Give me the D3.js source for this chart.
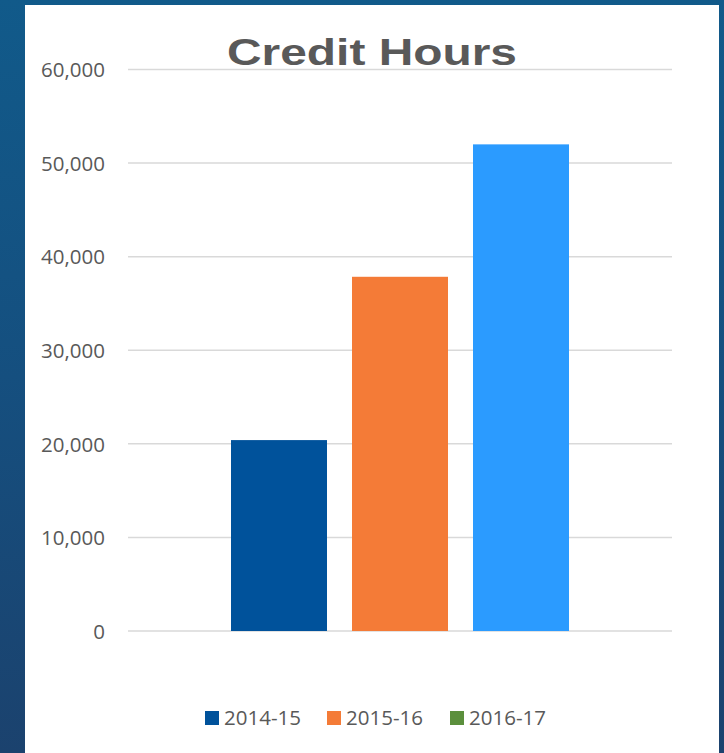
<!DOCTYPE html>
<html>
<head>
<meta charset="utf-8">
<script src="https://cdn.jsdelivr.net/npm/d3@7"></script>
<style>
  html, body { margin: 0; padding: 0; }
  body { width: 724px; height: 753px; overflow: hidden; }
</style>
</head>
<body>
<div id="chart"></div>
<script>
const title = "Credit Hours";
const seriesNames = ["2014-15", "2015-16", "2016-17"];
const values = [20400, 37850, 52000];
const barColors = ["#00529B", "#F47B37", "#2B9BFF"];
const legendColors = ["#00529B", "#F47B37", "#5B8F3C"];
const yTicks = [0, 10000, 20000, 30000, 40000, 50000, 60000];

const W = 724, H = 753;
const svg = d3.select("#chart").append("svg").attr("width", W).attr("height", H);

const defs = svg.append("defs");
const grad = defs.append("linearGradient").attr("id", "bg").attr("x1", 0).attr("y1", 0).attr("x2", 0).attr("y2", 1);
grad.append("stop").attr("offset", "0%").attr("stop-color", "#115A8A");
grad.append("stop").attr("offset", "50%").attr("stop-color", "#154F7F");
grad.append("stop").attr("offset", "100%").attr("stop-color", "#1B426E");
svg.append("rect").attr("width", W).attr("height", H).attr("fill", "url(#bg)");

// white panel
svg.append("rect").attr("x", 25).attr("y", 5).attr("width", 694).attr("height", 748).attr("fill", "#ffffff");

const x = d3.scaleBand().domain(seriesNames).range([128, 672])
  .paddingInner(25 / 121).paddingOuter(103 / 121);
const y = d3.scaleLinear().domain([0, 60000]).range([631, 69.5]);

// gridlines
svg.append("g").selectAll("line").data(yTicks).join("line")
  .attr("x1", 128).attr("x2", 672)
  .attr("y1", d => y(d)).attr("y2", d => y(d))
  .attr("stroke", "#d9d9d9").attr("stroke-width", 1.5);

// y axis labels
const yAxis = d3.axisLeft(y).tickValues(yTicks).tickFormat(d3.format(",")).tickSize(0).tickPadding(0);
const gy = svg.append("g").attr("transform", "translate(105,0)").call(yAxis);
gy.select(".domain").remove();
gy.selectAll("text")
  .attr("font-family", "'Open Sans', 'Noto Sans', sans-serif")
  .attr("font-size", 20.5)
  .attr("fill", "#595959")
  .attr("dy", "0.35em");

// bars
svg.append("g").selectAll("rect").data(values).join("rect")
  .attr("x", (d, i) => x(seriesNames[i]))
  .attr("width", x.bandwidth())
  .attr("y", d => y(d))
  .attr("height", d => y(0) - y(d))
  .attr("fill", (d, i) => barColors[i]);

// title
svg.append("text").attr("x", 227).attr("y", 65)
  .attr("font-family", "'Liberation Sans', Arial, sans-serif")
  .attr("font-weight", "bold")
  .attr("font-size", 36)
  .attr("fill", "#595959")
  .attr("textLength", 290)
  .attr("lengthAdjust", "spacingAndGlyphs")
  .text(title);

// legend
const legendX = [205, 327, 450];
const lg = svg.append("g").selectAll("g").data(seriesNames).join("g")
  .attr("transform", (d, i) => `translate(${legendX[i]},711)`);
lg.append("rect").attr("width", 14).attr("height", 14).attr("fill", (d, i) => legendColors[i]);
lg.append("text").attr("x", 19).attr("y", 13.5)
  .attr("font-family", "'Open Sans', 'Noto Sans', sans-serif")
  .attr("font-size", 20.5)
  .attr("fill", "#595959")
  .text(d => d);
</script>
</body>
</html>
